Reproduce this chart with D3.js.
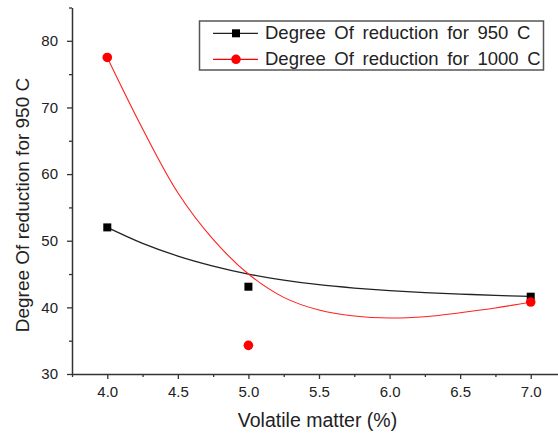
<!DOCTYPE html>
<html>
<head>
<meta charset="utf-8">
<script src="https://cdn.jsdelivr.net/npm/d3@7/dist/d3.min.js"></script>
<style>
  html, body { margin: 0; padding: 0; background: #fff; }
  svg { display: block; font-family: "Liberation Sans", Arial, sans-serif; }
</style>
</head>
<body>
<svg id="chart" width="558" height="434"></svg>
<script>
// Measured points
const volatileMatter = [4.0, 5.0, 7.0];
const reduction950 = [52.0, 43.1, 41.6];
const reduction1000 = [77.5, 34.3, 40.8];

// Fitted curves, sampled along the x axis
const fitX = [4.0, 4.25, 4.5, 4.75, 5.0, 5.25, 5.5, 5.75, 6.0, 6.25, 6.5, 6.75, 7.0];
const fit950 = [52.0, 49.6, 47.7, 46.2, 45.0, 44.1, 43.4, 42.9, 42.5, 42.2, 42.0, 41.8, 41.65];
const fit1000 = [77.5, 66.8, 57.2, 50.2, 45.0, 41.5, 39.6, 38.7, 38.4, 38.6, 39.2, 39.9, 40.8];

// Axis ticks
const xTicks = [3.75, 4.0, 4.25, 4.5, 4.75, 5.0, 5.25, 5.5, 5.75, 6.0, 6.25, 6.5, 6.75, 7.0, 7.25];
const yTicks = [30, 35, 40, 45, 50, 55, 60, 65, 70, 75, 80, 85];

const seriesNames = ["Degree Of reduction for 950 C", "Degree Of reduction for 1000 C"];
const xTitle = "Volatile matter (%)";
const yTitle = "Degree Of reduction for 950 C";

const svg = d3.select("#chart");
const axisColor = "#333";
const textColor = "#222";

const x = d3.scaleLinear().domain([3.75, 7.25]).range([72, 566]);
const y = d3.scaleLinear().domain([30, 85]).range([374, 7.5]);

// x axis
const isMajorX = v => Math.abs(v * 2 - Math.round(v * 2)) < 1e-6 && v >= 4 && v <= 7;
const gx = svg.append("g").attr("transform", `translate(0,${y(30)})`)
  .call(d3.axisBottom(x).tickValues(xTicks).tickSizeOuter(0).tickPadding(6)
    .tickFormat(v => isMajorX(v) ? d3.format(".1f")(v) : ""));
gx.selectAll("line").attr("y2", d => isMajorX(d) ? 5 : 3);

// y axis
const isMajorY = v => v % 10 === 0;
const gy = svg.append("g").attr("transform", `translate(${x(3.75)},0)`)
  .call(d3.axisLeft(y).tickValues(yTicks).tickSizeOuter(0).tickPadding(8)
    .tickFormat(v => isMajorY(v) ? String(v) : ""));
gy.selectAll("line").attr("x2", d => isMajorY(d) ? -5 : -3);

svg.selectAll(".domain").attr("stroke", axisColor).attr("stroke-width", 1.5);
svg.selectAll(".tick line").attr("stroke", axisColor).attr("stroke-width", 1.3);
svg.selectAll(".tick text").attr("fill", textColor).style("font-size", "15px")
  .style("font-family", "Liberation Sans, Arial, sans-serif");

// axis titles
svg.append("text").attr("x", 317.5).attr("y", 427).attr("text-anchor", "middle")
  .attr("fill", textColor).style("font-size", "19.5px").text(xTitle);
svg.append("text").attr("transform", "translate(29,205) rotate(-90)")
  .attr("text-anchor", "middle").attr("fill", textColor).style("font-size", "19px")
  .text(yTitle);

// fitted curves
const line = d3.line().x(d => x(d[0])).y(d => y(d[1])).curve(d3.curveCatmullRom.alpha(0.5));
svg.append("path").datum(d3.zip(fitX, fit950)).attr("d", line)
  .attr("fill", "none").attr("stroke", "#222").attr("stroke-width", 1.3);
svg.append("path").datum(d3.zip(fitX, fit1000)).attr("d", line)
  .attr("fill", "none").attr("stroke", "#ff2020").attr("stroke-width", 1.1);

// markers
const sq = 8;
svg.selectAll(".m950").data(d3.zip(volatileMatter, reduction950)).join("rect")
  .attr("x", d => x(d[0]) - sq / 2).attr("y", d => y(d[1]) - sq / 2)
  .attr("width", sq).attr("height", sq).attr("fill", "#000");
svg.selectAll(".m1000").data(d3.zip(volatileMatter, reduction1000)).join("circle")
  .attr("cx", d => x(d[0])).attr("cy", d => y(d[1])).attr("r", 4.8).attr("fill", "#ff0000");

// legend
const lg = svg.append("g");
lg.append("rect").attr("x", 199.5).attr("y", 21).attr("width", 344).attr("height", 49)
  .attr("fill", "#fff").attr("stroke", "#555").attr("stroke-width", 1.5);
const rows = [{ c: "#222", shape: "rect" }, { c: "#ff0000", shape: "circle" }];
rows.forEach((r, i) => {
  const cy = 33.3 + i * 26;
  lg.append("line").attr("x1", 213).attr("x2", 258).attr("y1", cy).attr("y2", cy)
    .attr("stroke", r.c).attr("stroke-width", 1.2);
  if (r.shape === "rect") {
    lg.append("rect").attr("x", 236 - 4).attr("y", cy - 4).attr("width", 8).attr("height", 8).attr("fill", "#000");
  } else {
    lg.append("circle").attr("cx", 236).attr("cy", cy).attr("r", 4.8).attr("fill", "#ff0000");
  }
  lg.append("text").attr("x", 265).attr("y", cy + 5.5).attr("fill", textColor)
    .style("font-size", "18.5px").style("word-spacing", "3.5px").text(seriesNames[i]);
});
</script>
</body>
</html>
